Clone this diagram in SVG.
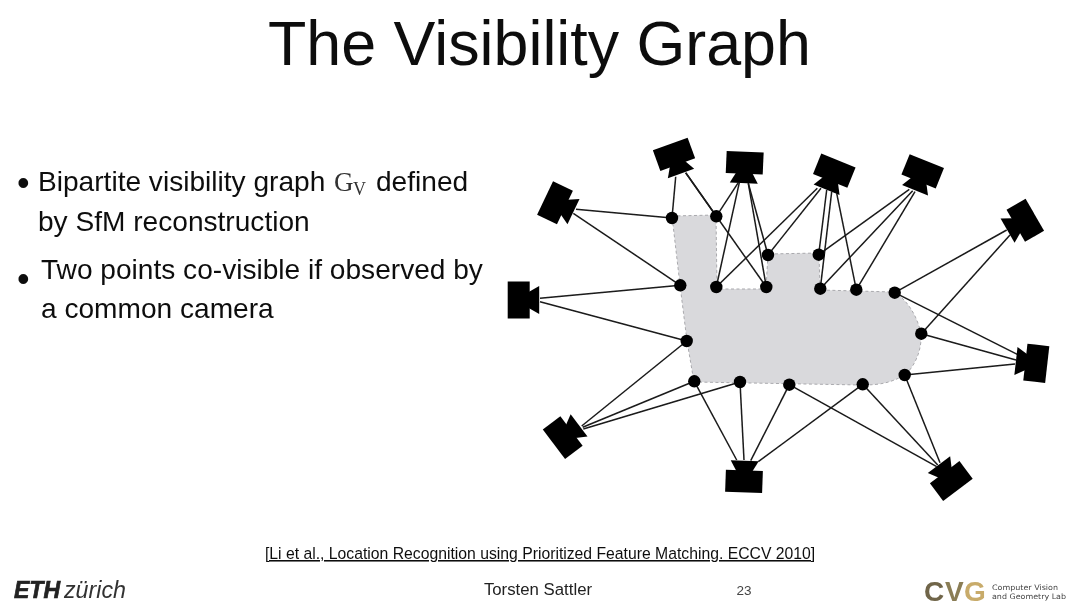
<svg xmlns="http://www.w3.org/2000/svg" width="1080" height="607" viewBox="0 0 1080 607">
<style>
text{font-family:"Liberation Sans",Arial,sans-serif;fill:#111}
.b{font-size:28.100px}
.d{font-size:36px}
.s{font-family:"Liberation Serif",serif;fill:#333}
.l{font-family:"DejaVu Sans",sans-serif;font-size:7.500px;fill:#444}
.m{font-size:28px;font-weight:bold}
.e{stroke:#1a1a1a;stroke-width:1.500;fill:none}
.p{fill:#000}
.cam{fill:#000}
</style>
<defs>
<filter id="soft" x="-5%" y="-5%" width="110%" height="110%"><feGaussianBlur stdDeviation="0.4"/></filter>
<g id="camera"><rect x="-18.500" y="-11" width="37" height="22"/><polygon points="-8,10 -14,20.500 14,20.500 8,10"/></g>
</defs>
<rect width="1080" height="607" fill="#fff"/>
<g filter="url(#soft)">
<text x="268" y="64.500" font-size="62.750">The Visibility Graph</text>

<g id="bullets">
<text x="17" y="195" class="d">•</text>
<text x="38" y="191" class="b">Bipartite visibility graph <tspan class="s" x="334" font-size="27">G</tspan><tspan class="s" x="353" y="195" font-size="18">V</tspan><tspan x="376" y="191">defined</tspan></text>
<text x="38" y="231" class="b">by SfM reconstruction</text>
<text x="17" y="291" class="d">•</text>
<text x="41" y="279" class="b">Two points co-visible if observed by</text>
<text x="41" y="318" class="b">a common camera</text>
</g>

<path id="region" d="M672,216 L716,215 L717,289 L766,289 L768,254 L819,253 L820,290 L894,292 C908,300 918,318 921,334 C922,350 915,366 905,375 C890,383 880,385 862,385 L694,382 L687,341 L680,285 Z" fill="#d9d9dc" stroke="#a9a9ad" stroke-width="1" stroke-dasharray="3 2.500"/>

<g id="connectors" class="e">
<line x1="576" y1="209.300" x2="672" y2="218"/>
<line x1="573.300" y1="213.300" x2="680.300" y2="285.300"/>
<line x1="540" y1="298.300" x2="680.300" y2="285.300"/>
<line x1="540" y1="301.700" x2="686.700" y2="341"/>
<line x1="675.700" y1="176.700" x2="672" y2="218"/>
<line x1="685.700" y1="172.700" x2="716.300" y2="216.300"/>
<line x1="685.700" y1="172.700" x2="766.300" y2="287"/>
<line x1="738.300" y1="182.700" x2="716.300" y2="216.300"/>
<line x1="739.300" y1="182.700" x2="716.300" y2="287"/>
<line x1="748.300" y1="183.300" x2="766.300" y2="287"/>
<line x1="748.300" y1="183.300" x2="768" y2="255"/>
<line x1="817.300" y1="188.300" x2="716.300" y2="287"/>
<line x1="821" y1="188.300" x2="768" y2="255"/>
<line x1="826.700" y1="190" x2="818.700" y2="254.700"/>
<line x1="831.700" y1="191.700" x2="820.300" y2="288.700"/>
<line x1="836.700" y1="193.300" x2="856.300" y2="289.700"/>
<line x1="909.300" y1="189.300" x2="818.700" y2="254.700"/>
<line x1="912.700" y1="190.700" x2="820.300" y2="288.700"/>
<line x1="915" y1="191.700" x2="856.300" y2="289.700"/>
<line x1="1006.700" y1="230" x2="894.700" y2="292.700"/>
<line x1="1010" y1="235" x2="921.300" y2="333.700"/>
<line x1="1017.300" y1="354.300" x2="894.700" y2="292.700"/>
<line x1="1016" y1="360" x2="921.300" y2="333.700"/>
<line x1="1015" y1="364" x2="904.700" y2="375"/>
<line x1="936.700" y1="466.700" x2="789.300" y2="384.700"/>
<line x1="937.700" y1="465" x2="862.700" y2="384.300"/>
<line x1="940" y1="462.700" x2="904.700" y2="375"/>
<line x1="736.700" y1="460" x2="694.300" y2="381.300"/>
<line x1="744" y1="460" x2="740" y2="382"/>
<line x1="750.700" y1="460.700" x2="789.300" y2="384.700"/>
<line x1="758.300" y1="461.700" x2="862.700" y2="384.300"/>
<line x1="581.700" y1="426" x2="686.700" y2="341"/>
<line x1="582.700" y1="427.300" x2="694.300" y2="381.300"/>
<line x1="583.300" y1="429" x2="740" y2="382"/>
</g>

<g id="cam-a" class="cam"><use href="#camera" transform="translate(555 202.700) rotate(-64.500)"/></g>
<g id="cam-b" class="cam"><use href="#camera" transform="translate(518.700 300) rotate(-90)"/></g>
<g id="cam-c" class="cam"><use href="#camera" transform="translate(674 154.300) rotate(-20)"/></g>
<g id="cam-d" class="cam"><use href="#camera" transform="translate(744.700 162.700) rotate(2.500)"/></g>
<g id="cam-e" class="cam"><use href="#camera" transform="translate(834.300 170.700) rotate(22)"/></g>
<g id="cam-f" class="cam"><use href="#camera" transform="translate(922.700 171.300) rotate(22)"/></g>
<g id="cam-g" class="cam"><use href="#camera" transform="translate(1025.300 220.300) rotate(60)"/></g>
<g id="cam-h" class="cam"><use href="#camera" transform="translate(1036.300 363.300) rotate(96.500)"/></g>
<g id="cam-i" class="cam"><use href="#camera" transform="translate(951.300 481) rotate(143)"/></g>
<g id="cam-j" class="cam"><use href="#camera" transform="translate(744 481.300) rotate(182)"/></g>
<g id="cam-k" class="cam"><use href="#camera" transform="translate(562.700 437.700) rotate(-127)"/></g>

<g id="pt-1"><circle class="p" cx="672" cy="218" r="6.200"/></g>
<g id="pt-2"><circle class="p" cx="716.300" cy="216.300" r="6.200"/></g>
<g id="pt-3"><circle class="p" cx="680.300" cy="285.300" r="6.200"/></g>
<g id="pt-4"><circle class="p" cx="716.300" cy="287" r="6.200"/></g>
<g id="pt-5"><circle class="p" cx="766.300" cy="287" r="6.200"/></g>
<g id="pt-6"><circle class="p" cx="768" cy="255" r="6.200"/></g>
<g id="pt-7"><circle class="p" cx="818.700" cy="254.700" r="6.200"/></g>
<g id="pt-8"><circle class="p" cx="820.300" cy="288.700" r="6.200"/></g>
<g id="pt-9"><circle class="p" cx="856.300" cy="289.700" r="6.200"/></g>
<g id="pt-10"><circle class="p" cx="894.700" cy="292.700" r="6.200"/></g>
<g id="pt-11"><circle class="p" cx="921.300" cy="333.700" r="6.200"/></g>
<g id="pt-12"><circle class="p" cx="686.700" cy="341" r="6.200"/></g>
<g id="pt-13"><circle class="p" cx="694.300" cy="381.300" r="6.200"/></g>
<g id="pt-14"><circle class="p" cx="740" cy="382" r="6.200"/></g>
<g id="pt-15"><circle class="p" cx="789.300" cy="384.700" r="6.200"/></g>
<g id="pt-16"><circle class="p" cx="862.700" cy="384.300" r="6.200"/></g>
<g id="pt-17"><circle class="p" cx="904.700" cy="375" r="6.200"/></g>

<text x="265" y="559" font-size="15.740" style="text-decoration:underline;text-decoration-thickness:1.500px">[Li et al., Location Recognition using Prioritized Feature Matching. ECCV 2010]</text>
<text x="538" y="595" font-size="16.800" text-anchor="middle" style="fill:#222">Torsten Sattler</text>
<text x="744" y="595" font-size="13.500" text-anchor="middle" style="fill:#444">23</text>

<g id="eth-logo">
<text x="14" y="598" font-size="23.500" font-weight="bold" font-style="italic" textLength="46" lengthAdjust="spacingAndGlyphs" stroke="#222" stroke-width="0.700" style="fill:#222">ETH</text>
<text x="64" y="598" font-size="24" font-style="italic" textLength="62" lengthAdjust="spacingAndGlyphs" style="fill:#333">zürich</text>
</g>
<g id="cvg-logo">
<text class="m" x="924" y="601" style="fill:#6f6548">C</text>
<text class="m" x="945" y="601" style="fill:#8a7d55">V</text>
<text class="m" x="964" y="601" style="fill:#c8ab6b">G</text>
<text x="992" y="590" class="l" textLength="66" lengthAdjust="spacingAndGlyphs">Computer Vision</text>
<text x="992" y="599" class="l" textLength="74" lengthAdjust="spacingAndGlyphs">and Geometry Lab</text>
</g>
</g>
</svg>
